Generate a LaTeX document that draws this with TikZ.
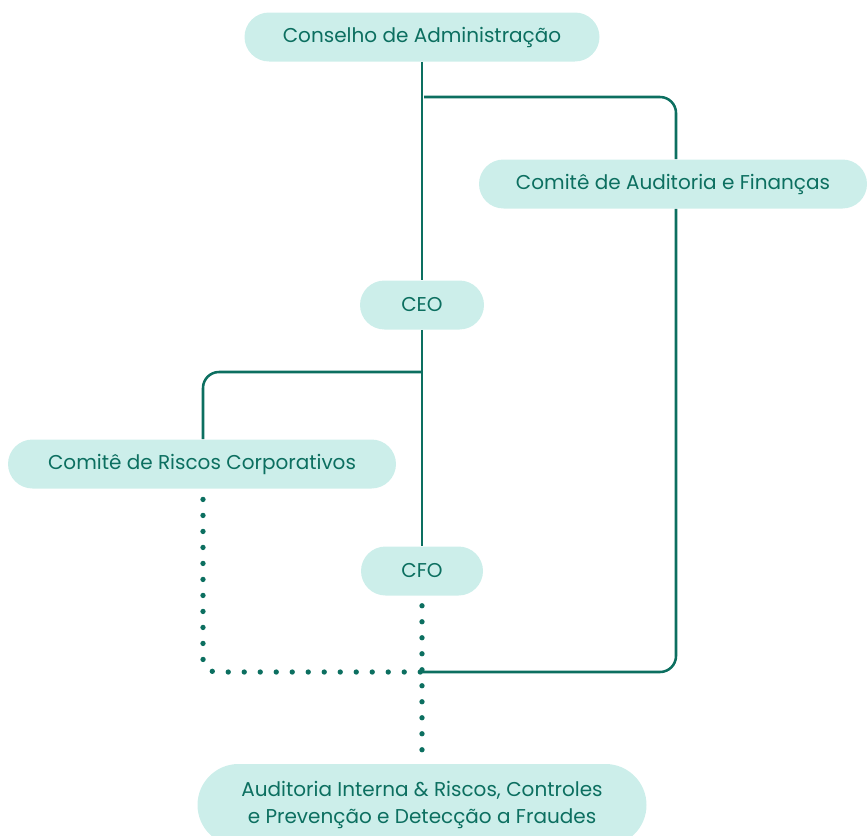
\documentclass[tikz,border=0pt]{standalone}
\usepackage{fontspec}
\setmainfont{Poppins}
\usetikzlibrary{positioning}
\definecolor{tealline}{HTML}{0C6F60}
\definecolor{mintfill}{HTML}{CCEEEA}
\tikzset{
  box/.style={fill=mintfill, text=tealline, rounded corners=18.4pt, minimum height=36.75pt,
    inner sep=0pt, font=\fontsize{15}{20}\selectfont, align=center},
  link/.style={draw=tealline, line width=1.9pt, rounded corners=12pt},
  dots/.style={draw=tealline, line width=4pt, line cap=round, dash pattern=on 0pt off 12pt},
}
\begin{document}
\begin{tikzpicture}[x=0.75pt, y=-0.75pt]
  \useasboundingbox (0,0) rectangle (867,835);
  \clip (0,0) rectangle (867,835);

  \node[box, minimum width=266.25pt] (cons) at (422,37) {Conselho de Administração};
  \node[box, minimum width=291pt] (caf) at (673,184) {Comitê de Auditoria e Finanças};
  \node[box, minimum width=93pt] (ceo) at (422,305) {CEO};
  \node[box, minimum width=291pt] (risc) at (202,464) {Comitê de Riscos Corporativos};
  \node[box, minimum width=91.5pt] (cfo) at (422,571) {CFO};
  \node[box, minimum width=336.75pt, minimum height=61.5pt, rounded corners=30.75pt] (aud) at (422,805)
    {Auditoria Interna \& Riscos, Controles\\e Prevenção e Detecção a Fraudes};

  \coordinate (j1) at (424,97);
  \coordinate (j2) at (422,372);
  \coordinate (j3) at (422,672);

  \draw[link] (cons) -- (ceo);
  \draw[link] (ceo) -- (cfo);
  \draw[link] (j1) -| ([xshift=2.25pt]caf.north);
  \draw[link] ([xshift=2.25pt]caf.south) |- (j3);
  \draw[link] (j2) -| ([xshift=0.75pt]risc.north);
  \draw[dots, rounded corners=10pt, shorten <=8pt] ([xshift=0.75pt]risc.south) |- (j3);
  \draw[dots, shorten <=7.5pt, shorten >=7pt] (cfo.south) -- (aud.north);
\end{tikzpicture}
\end{document}
